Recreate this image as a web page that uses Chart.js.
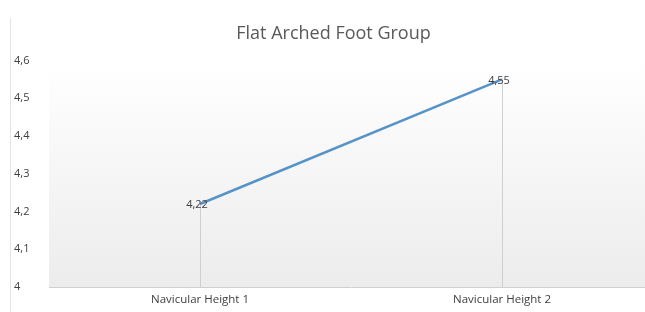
<!DOCTYPE html>
<html>
<head>
<meta charset="utf-8">
<script src="https://cdn.jsdelivr.net/npm/chart.js@4.4.1/dist/chart.umd.min.js"></script>
<style>
  html, body { margin: 0; padding: 0; background: #fff; overflow: hidden; }
  #wrap { width: 653px; height: 312px; }
</style>
</head>
<body>
<div id="wrap"><canvas id="chart"></canvas></div>
<script>
const categories = ["Navicular Height 1", "Navicular Height 2"];
const heights = [4.22, 4.55];
const yTicks = [4, 4.1, 4.2, 4.3, 4.4, 4.5, 4.6];

const fmt = v => String(v).replace(".", ",");

// gradient behind the plot, and the left frame line
const backdrop = {
    id: "backdrop",
    beforeDraw(chart) {
        const { ctx, chartArea: a } = chart;
        ctx.save();
        const g = ctx.createLinearGradient(0, a.top, 0, a.bottom);
        g.addColorStop(0, "#ffffff");
        g.addColorStop(1, "#ececec");
        ctx.fillStyle = g;
        ctx.fillRect(a.left, a.top, a.right - a.left, a.bottom - a.top);
        ctx.strokeStyle = "#e4e4e4";
        ctx.lineWidth = 1;
        ctx.beginPath();
        ctx.moveTo(10.5, 18);
        ctx.lineTo(10.5, 312);
        ctx.stroke();
        ctx.restore();
    }
};

// drop lines from each point down to the category axis
const dropLines = {
    id: "dropLines",
    beforeDatasetsDraw(chart) {
        const { ctx, chartArea: a } = chart;
        const meta = chart.getDatasetMeta(0);
        ctx.save();
        ctx.strokeStyle = "#cfcfcf";
        ctx.lineWidth = 1;
        meta.data.forEach(pt => {
            const x = Math.round(pt.x) + 0.5;
            ctx.beginPath();
            ctx.moveTo(x, pt.y);
            ctx.lineTo(x, a.bottom);
            ctx.stroke();
        });
        ctx.restore();
    }
};

const valueLabels = {
    id: "valueLabels",
    afterDatasetsDraw(chart) {
        const { ctx } = chart;
        const meta = chart.getDatasetMeta(0);
        ctx.save();
        ctx.font = "11px 'Open Sans', sans-serif";
        ctx.fillStyle = "#404040";
        ctx.textAlign = "center";
        ctx.textBaseline = "middle";
        meta.data.forEach((pt, i) => {
            ctx.fillText(fmt(heights[i]), pt.x - 3, pt.y + 1);
        });
        ctx.restore();
    }
};

new Chart(document.getElementById("chart"), {
    type: "line",
    data: {
        labels: categories,
        datasets: [{
            data: heights,
            borderColor: "#5694c8",
            borderWidth: 2.5,
            pointRadius: 0,
            tension: 0
        }]
    },
    options: {
        responsive: true,
        maintainAspectRatio: false,
        animation: false,
        layout: { padding: { left: 14, right: 0, top: 0, bottom: 0 } },
        plugins: {
            legend: { display: false },
            tooltip: { enabled: false },
            title: {
                display: true,
                text: "Flat Arched Foot Group",
                color: "#595959",
                font: { family: "'Open Sans', sans-serif", size: 18, weight: "normal" },
                padding: { top: 23, bottom: 16 }
            }
        },
        scales: {
            x: {
                offset: true,
                grid: { display: false, drawTicks: false },
                border: { color: "#d0d0d0" },
                ticks: {
                    color: "#404040",
                    font: { family: "'Open Sans', sans-serif", size: 11.5 },
                    padding: 6,
                    maxRotation: 0
                },
                afterFit(scale) { scale.height = 25; }
            },
            y: {
                min: 4,
                max: 4.6,
                grid: { display: false, drawTicks: false },
                border: { display: false },
                afterBuildTicks(scale) { scale.ticks = yTicks.map(v => ({ value: v })); },
                ticks: {
                    color: "#404040",
                    font: { family: "'Open Sans', sans-serif", size: 11 },
                    crossAlign: "far",
                    padding: 4,
                    callback: v => fmt(Math.round(v * 10) / 10)
                },
                afterFit(scale) { scale.width = 35; }
            }
        }
    },
    plugins: [backdrop, dropLines, valueLabels]
});
</script>
</body>
</html>
